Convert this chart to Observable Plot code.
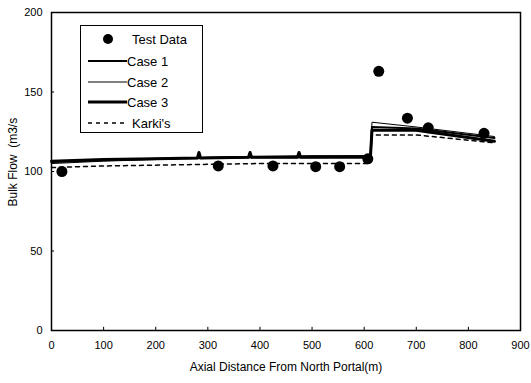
<!DOCTYPE html>
<html>
<head>
<meta charset="utf-8">
<script src="https://cdn.jsdelivr.net/npm/d3@7"></script>
<script src="https://cdn.jsdelivr.net/npm/@observablehq/plot@0.6"></script>
<style>
  html, body { margin: 0; padding: 0; background: #fff; }
  #wrap { position: relative; width: 531px; height: 383px; font-family: "Liberation Sans", Arial, sans-serif; }
  #legend { position: absolute; left: 80px; top: 25px; width: 123px; height: 108px; border: 1.5px solid #000; background: #fff; box-sizing: border-box; }
</style>
</head>
<body>
<div id="wrap"></div>
<script>
// Test data
const testX = [20, 320, 425, 507, 553, 607, 628, 683, 723, 830];
const testY = [100, 103.5, 103.5, 103, 103, 108, 163, 133.5, 127.5, 124];

// Case 1
const case1X = [0, 100, 200, 300, 400, 500, 612, 615, 700, 850];
const case1Y = [106, 107, 108, 108.5, 109, 109, 109.5, 128, 127, 121];
// Case 2
const case2X = [0, 100, 200, 300, 400, 500, 612, 615, 700, 850];
const case2Y = [105, 106.5, 107.5, 109, 109.5, 110, 110, 131, 128, 122];
// Case 3
const case3X = [0, 100, 200, 280, 283, 286, 378, 381, 384, 472, 475, 478, 612, 615, 700, 850];
const case3Y = [106.5, 107.5, 108, 108.5, 112, 108.5, 109, 112, 109, 109, 112, 109, 109, 126, 126, 119];
// Karki's
const karkiX = [0, 100, 200, 300, 400, 500, 612, 615, 700, 850];
const karkiY = [102.5, 103.5, 104, 104.5, 105, 105, 105, 123, 123, 118];

const xTicks = [0, 100, 200, 300, 400, 500, 600, 700, 800, 900];
const yTicks = [0, 50, 100, 150, 200];

const legendLabels = ["Test Data", "Case 1", "Case 2", "Case 3", "Karki's"];

const toRows = (xs, ys) => xs.map((x, i) => ({x, y: ys[i]}));

const plot = Plot.plot({
  width: 531,
  height: 383,
  marginTop: 12,
  marginRight: 11,
  marginBottom: 53,
  marginLeft: 51,
  style: {fontFamily: "'Liberation Sans', Arial, sans-serif", fontSize: "11px", color: "#000", background: "#fff"},
  x: {domain: [0, 900]},
  y: {domain: [0, 200]},
  marks: [
    Plot.axisX({ticks: xTicks, tickSize: 0, tickPadding: 11, tickFormat: d => d, label: null}),
    Plot.axisY({ticks: yTicks, tickSize: 0, tickPadding: 9, tickFormat: d => d, label: null}),
    Plot.ruleX(xTicks, {y1: 0, y2: 2, stroke: "#000", strokeWidth: 1}),
    Plot.ruleY(yTicks, {x1: 0, x2: 6, stroke: "#000", strokeWidth: 1}),
    Plot.text(["Axial Distance From North Portal(m)"], {frameAnchor: "bottom", dy: 40, fontSize: 12}),
    Plot.text(["Bulk Flow  (m3/s"], {frameAnchor: "left", dx: -38, dy: 35, rotate: -90, fontSize: 12}),
    Plot.line(toRows(karkiX, karkiY), {x: "x", y: "y", stroke: "#000", strokeWidth: 1.5, strokeDasharray: "4,4"}),
    Plot.line(toRows(case2X, case2Y), {x: "x", y: "y", stroke: "#000", strokeWidth: 1}),
    Plot.line(toRows(case1X, case1Y), {x: "x", y: "y", stroke: "#000", strokeWidth: 2}),
    Plot.line(toRows(case3X, case3Y), {x: "x", y: "y", stroke: "#000", strokeWidth: 3}),
    Plot.dot(toRows(testX, testY), {x: "x", y: "y", r: 5.5, fill: "#000", stroke: "none"}),
    Plot.frame({stroke: "#000", strokeWidth: 1.5})
  ]
});

const wrap = document.getElementById("wrap");
wrap.appendChild(plot);

// Legend
const styles = [
  {type: "dot"},
  {type: "line", w: 2, dash: null},
  {type: "line", w: 1, dash: null},
  {type: "line", w: 3, dash: null},
  {type: "line", w: 1.5, dash: "4,4"}
];
const rowsY = [14, 36, 57, 77, 98];
let svg = `<svg width="123" height="108" style="position:absolute;left:-1.5px;top:-1.5px;overflow:visible">`;
legendLabels.forEach((lab, i) => {
  const s = styles[i], y = rowsY[i];
  if (s.type === "dot") {
    svg += `<circle cx="28" cy="${y}" r="5" fill="#000"/>`;
    svg += `<text x="52" y="${y + 4.5}" font-size="13" font-family="Liberation Sans, Arial, sans-serif">${lab}</text>`;
  } else {
    svg += `<line x1="8" x2="47" y1="${y}" y2="${y}" stroke="#000" stroke-width="${s.w}" ${s.dash ? `stroke-dasharray="${s.dash}"` : ""}/>`;
    svg += `<text x="${s.dash ? 52 : 47}" y="${y + 4.5}" font-size="13" font-family="Liberation Sans, Arial, sans-serif">${lab}</text>`;
  }
});
svg += `</svg>`;
const leg = document.createElement("div");
leg.id = "legend";
leg.innerHTML = svg;
wrap.appendChild(leg);
</script>
</body>
</html>
